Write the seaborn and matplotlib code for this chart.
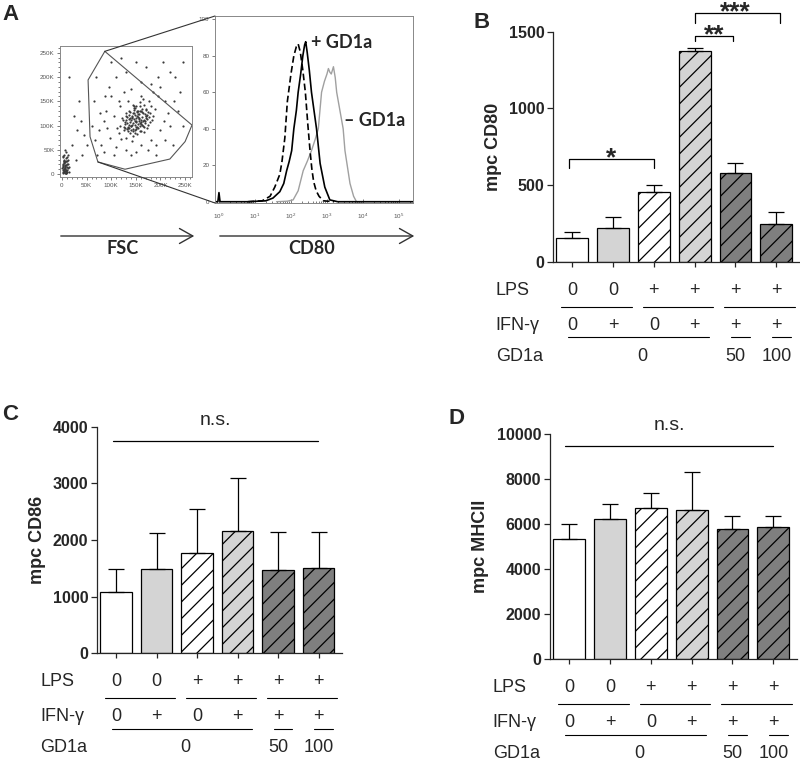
import numpy as np
import pandas as pd
import matplotlib
matplotlib.use("Agg")
import matplotlib.pyplot as plt
import matplotlib.transforms as mtransforms
from matplotlib.patches import ConnectionPatch, FancyArrowPatch
from matplotlib.ticker import FuncFormatter, MultipleLocator, LogLocator, NullFormatter
import seaborn as sns

# ---------------- data ----------------
conditions = ["c1", "c2", "c3", "c4", "c5", "c6"]
lps = ["0", "0", "+", "+", "+", "+"]
ifn = ["0", "+", "0", "+", "+", "+"]
gd1a_labels = ["0", "50", "100"]

cd80_mean = [152, 222, 457, 1376, 576, 243]
cd80_err = [39, 67, 43, 15, 65, 79]
cd86_mean = [1082, 1482, 1776, 2165, 1476, 1512]
cd86_err = [400, 642, 777, 923, 665, 635]
mhcii_mean = [5343, 6244, 6730, 6642, 5771, 5845]
mhcii_err = [635, 649, 635, 1653, 576, 517]

# histogram (CD80, log10 of intensity vs % of max)
dashed_log = [0.8, 1.2, 1.42, 1.55, 1.69, 1.75, 1.83, 1.9, 2.0, 2.08, 2.15, 2.2, 2.26,
              2.33, 2.4, 2.47, 2.53, 2.58, 2.63, 2.7, 2.78, 2.9, 3.2]
dashed_y = [0, 0.5, 3, 8, 15, 22, 35, 55, 70, 80, 85, 86.5, 82, 72, 60, 42, 28, 18, 11,
            6, 3, 0.5, 0]
solid_log = [-0.12, -0.03, 0.0, 0.03, 0.8, 1.3, 1.5, 1.69, 1.8, 1.88, 1.95, 2.02, 2.08,
             2.15, 2.2, 2.27, 2.33, 2.38, 2.41, 2.45, 2.51, 2.57, 2.64, 2.71, 2.81, 2.94,
             3.08, 3.3, 5.4]
solid_y = [0, 0, 5, 0, 0, 0.5, 2, 5.5, 10, 17, 22, 28, 40, 50, 60, 70, 80, 86, 87.7, 82,
           72, 60, 50, 40, 21, 8, 1, 0, 0]
gray_log = [1.6, 1.9, 2.06, 2.2, 2.34, 2.45, 2.57, 2.67, 2.76, 2.85, 2.93, 3.0, 3.04, 3.08,
            3.12, 3.18, 3.23, 3.27, 3.36, 3.45, 3.5, 3.64, 3.74, 3.82, 4.0]
gray_y = [0, 0.3, 1, 6, 17, 22, 28, 34, 40, 60, 66, 70, 73, 71, 70, 74, 68, 60, 50, 40, 28,
          10, 3, 0, 0]

# FSC / SSC dot plot (K units)
fsc_k = [150, 145, 155, 160, 140, 165, 135, 152, 148, 170, 158, 142, 128, 162, 175, 138, 155,
         168, 132, 146, 180, 125, 150, 160, 172, 118, 144, 185, 136, 158, 122, 166, 178, 130,
         153, 141, 149, 157, 163, 139, 147, 170, 126, 134, 176, 188, 115, 160, 143, 151, 154,
         137, 167, 145, 159, 129, 173, 182, 120, 165,
         143, 156, 161, 149, 137, 152, 166, 171, 128, 134, 147, 159, 163, 141, 154, 176, 131,
         145, 168, 150, 139, 157, 148, 162, 173, 127, 136, 151, 165, 144, 158, 179, 133, 146,
         169, 153, 140, 160, 171, 124, 150, 155, 142, 148, 164, 137, 158, 170, 132, 146, 152,
         161, 143, 167, 139, 156, 149, 174, 129, 144,
         80, 95, 110, 200, 210, 220, 90, 75, 105, 190, 230, 240, 100, 130, 170, 205, 65, 70,
         85, 115, 200, 215, 225, 195, 180, 110, 98, 87, 125, 160, 140, 185, 235, 245, 92, 105,
         118, 210, 190, 150, 130, 175, 78, 68, 120, 150, 220, 100, 135, 195, 208, 112, 86, 160,
         140, 228, 245, 60, 72, 180,
         20, 30, 25, 40, 35, 15, 45, 28, 50, 38,
         3, 5, 8, 4, 6, 10, 2, 7, 12, 5, 9, 3, 11, 6, 14, 4, 8, 13, 2, 7, 10, 5, 15, 3, 9, 6,
         12, 4, 8, 11, 2, 4, 6, 8, 10, 3, 5, 7, 9, 11, 1, 4, 6, 8, 12, 3, 5, 7, 2, 9]
ssc_k = [110, 105, 118, 112, 100, 125, 95, 130, 90, 115, 100, 120, 108, 135, 128, 85, 95,
         105, 118, 125, 140, 90, 140, 88, 95, 100, 78, 120, 130, 148, 115, 142, 108, 75, 82,
         112, 101, 123, 117, 107, 133, 132, 98, 88, 150, 135, 85, 160, 68, 115, 104, 113, 98,
         92, 129, 126, 122, 112, 72, 155,
         102, 115, 108, 121, 96, 127, 111, 119, 103, 97, 114, 106, 128, 99, 131, 117, 112, 88,
         124, 93, 116, 109, 137, 101, 113, 94, 122, 107, 100, 126, 89, 125, 105, 141, 110, 120,
         91, 104, 134, 111, 97, 123, 116, 84, 109, 102, 140, 119, 92, 136, 98, 130, 118, 87,
         128, 113, 109, 101, 120, 143,
         60, 180, 200, 180, 150, 100, 130, 90, 40, 60, 200, 170, 230, 210, 220, 230, 150, 200,
         110, 150, 90, 125, 60, 200, 70, 55, 75, 160, 170, 190, 175, 170, 130, 100, 95, 120,
         140, 70, 40, 45, 50, 50, 125, 70, 240, 230, 210, 160, 150, 160, 110, 95, 45, 60, 40,
         150, 230, 100, 40, 185,
         60, 90, 120, 40, 150, 200, 80, 30, 60, 110,
         2, 5, 3, 10, 15, 8, 20, 25, 12, 30, 18, 35, 28, 6, 5, 40, 45, 20, 8, 12, 35, 22, 15,
         14, 2, 50, 40, 28, 33, 4, 4, 7, 10, 2, 14, 18, 24, 16, 6, 21, 12, 26, 3, 9, 30, 38,
         11, 19, 16, 27]
gate_x = [87, 264, 250, 219, 128, 73, 57, 53, 87]
gate_y = [253, 101, 67, 31, 10, 25, 77, 194, 253]

# ---------------- style ----------------
sns.set_style("ticks")
plt.rcParams["font.family"] = ["Liberation Sans", "DejaVu Sans"]
plt.rcParams["hatch.linewidth"] = 0.9

fill_colors = ["white", "#d4d4d4", "white", "#d4d4d4", "#7f7f7f", "#7f7f7f"]
hatches = ["", "", "//", "//", "//", "//"]

W, H = 800, 763
fig = plt.figure(figsize=(8, 7.63), dpi=100)


def fx(p):
    return p / W


def fy(p):
    return 1 - p / H


def axes_px(left, top, right, bottom):
    return fig.add_axes([fx(left), fy(bottom), (right - left) / W, (bottom - top) / H])


# ---------------- panel A ----------------
ax_sc = axes_px(60, 46, 192, 177)
sns.scatterplot(x=fsc_k, y=ssc_k, s=2.5, color="#3a3a3a", edgecolor=None, linewidth=0,
                ax=ax_sc)
ax_sc.plot(gate_x, gate_y, color="#555555", lw=0.8)
ax_sc.set_xlim(-4, 264)
ax_sc.set_ylim(-6, 264)
kfmt = FuncFormatter(lambda v, p: "0" if v == 0 else f"{int(v)}K")
for axis in (ax_sc.xaxis, ax_sc.yaxis):
    axis.set_major_locator(MultipleLocator(50))
    axis.set_minor_locator(MultipleLocator(10))
    axis.set_major_formatter(kfmt)
ax_sc.tick_params(which="both", direction="out", labelsize=4.5, labelcolor="#555555",
                  color="#666666", width=0.6, pad=1.5)
ax_sc.tick_params(which="major", length=2.5)
ax_sc.tick_params(which="minor", length=1.2)
for s in ax_sc.spines.values():
    s.set_color("#888888")
    s.set_linewidth(0.7)

ax_h = axes_px(215, 16, 413, 203)
ax_h.set_xscale("log")
ax_h.plot(10 ** np.array(gray_log), gray_y, color="#a0a0a0", lw=1.0)
ax_h.plot(10 ** np.array(solid_log), solid_y, color="black", lw=1.2)
ax_h.plot(10 ** np.array(dashed_log), dashed_y, color="black", lw=1.2, ls=(0, (4, 2)))
ax_h.set_xlim(10 ** -0.11, 10 ** 5.39)
ax_h.set_ylim(-0.7, 101.8)
ax_h.yaxis.set_major_locator(MultipleLocator(20))
ax_h.xaxis.set_major_locator(LogLocator(base=10, numticks=10))
ax_h.xaxis.set_minor_locator(LogLocator(base=10, subs=np.arange(2, 10), numticks=10))
ax_h.xaxis.set_minor_formatter(NullFormatter())
ax_h.tick_params(axis="y", direction="out", length=2.5, width=0.6, labelsize=4.5,
                 labelcolor="#555555", color="#666666", pad=1.5)
ax_h.tick_params(axis="x", which="both", direction="in", width=0.6, labelsize=4.5,
                 labelcolor="#555555", color="#666666", pad=6)
ax_h.tick_params(axis="x", which="major", length=3)
ax_h.tick_params(axis="x", which="minor", length=1.5)
for s in ax_h.spines.values():
    s.set_color("#888888")
    s.set_linewidth(0.7)

for xyA, xyB in [((87, 253), (0, 1)), ((73, 25), (0, 0))]:
    con = ConnectionPatch(xyA=xyA, coordsA=ax_sc.transData, xyB=xyB, coordsB=ax_h.transAxes,
                          color="#333333", lw=0.8)
    fig.add_artist(con)

for x0, x1 in [(58, 197), (217, 417)]:
    arr = FancyArrowPatch((fx(x0), fy(236)), (fx(x1), fy(236)), transform=fig.transFigure,
                          arrowstyle="->,head_length=0.8,head_width=0.45", mutation_scale=12,
                          lw=1.0, color="#333333")
    fig.add_artist(arr)

fa = dict(family=["Lato", "DejaVu Sans"], fontweight="bold", fontsize=13)
fig.text(fx(123), fy(249), "FSC", ha="center", va="center", **fa)
fig.text(fx(312), fy(249), "CD80", ha="center", va="center", **fa)
fig.text(fx(311), fy(43), "+ GD1a", ha="left", va="center", **fa)
fig.text(fx(344), fy(120), "– GD1a", ha="left", va="center", **fa)

# ---------------- bar panels ----------------
lps_groups = [(0, 1), (2, 3), (4, 5)]
ifn_groups = [(0, 3), (4, 4), (5, 5)]
gd1a_pos = [1.72, 4, 5]


def bar_panel(ax, means, errs, ymax, step, bottom_px):
    df = pd.DataFrame({"cond": conditions, "val": means})
    sns.barplot(data=df, x="cond", y="val", hue="cond", palette=dict(zip(conditions, fill_colors)),
                legend=False, width=0.78, edgecolor="black", linewidth=0.9, saturation=1, ax=ax)
    for patch, h in zip(ax.patches, hatches):
        patch.set_hatch(h)
    ax.errorbar(range(6), means, yerr=[np.zeros(6), errs], fmt="none", ecolor="black",
                elinewidth=0.9, capsize=5.5, capthick=0.9, zorder=3)
    sns.despine(ax=ax)
    ax.spines["left"].set_linewidth(0.9)
    ax.spines["bottom"].set_linewidth(0.9)
    ax.set_xlabel("")
    ax.set_ylabel("")
    ax.set_xticks(range(6))
    ax.set_xticklabels([""] * 6)
    ax.set_yticks(np.arange(0, ymax + 1, step))
    ax.tick_params(axis="y", direction="out", length=4.3, width=0.9, labelsize=11.5, pad=2)
    ax.tick_params(axis="x", direction="out", length=3.6, width=0.9)
    for lab in ax.get_yticklabels():
        lab.set_fontweight("bold")

    tr = mtransforms.blended_transform_factory(ax.transData, fig.transFigure)
    for name, vals, off in [("LPS", lps, 33), ("IFN-γ", ifn, 68)]:
        ax.text(-1.87, fy(bottom_px + off), name, transform=tr, ha="left", va="baseline",
                fontsize=13)
        for i, v in enumerate(vals):
            ax.text(i, fy(bottom_px + off), v, transform=tr, ha="center", va="baseline",
                    fontsize=13)
    for a, b in lps_groups:
        ax.plot([a - 0.27, b + 0.46], [fy(bottom_px + 45)] * 2, transform=tr, color="black",
                lw=0.8, clip_on=False)
    for a, b in ifn_groups:
        ax.plot([a - 0.11, b + 0.35], [fy(bottom_px + 75.5)] * 2, transform=tr, color="black",
                lw=0.8, clip_on=False)
    ax.text(-1.87, fy(bottom_px + 99), "GD1a", transform=tr, ha="left", va="baseline",
            fontsize=13)
    for x, v in zip(gd1a_pos, gd1a_labels):
        ax.text(x, fy(bottom_px + 99), v, transform=tr, ha="center", va="baseline",
                fontsize=13)
    ax.set_xlim(-0.47, 5.58)
    ax.set_ylim(0, ymax)


# B
ax_b = axes_px(553, 31.7, 800, 261.7)
bar_panel(ax_b, cd80_mean, cd80_err, 1500, 500, 261.7)
star = dict(ha="center", va="baseline", fontsize=19, fontweight="bold",
            textcoords="offset points", annotation_clip=False)
for (a, b, y, leg), (tx, txt) in zip([(-0.07, 2.0, 668, 609), (3.0, 3.93, 1472, 1442),
                                       (3.0, 5.08, 1620, 1555)],
                                      [(0.95, "*"), (3.47, "**"), (4.0, "***")]):
    ax_b.plot([a, a, b, b], [leg, y, y, leg], color="black", lw=0.9, clip_on=False)
    ax_b.annotate(txt, xy=(tx, y), xytext=(0, -4.5), **star)

# C
ax_c = axes_px(97, 426.7, 342, 653.3)
bar_panel(ax_c, cd86_mean, cd86_err, 4000, 1000, 653.3)
ax_c.plot([-0.07, 4.98], [3746, 3746], color="black", lw=0.9, clip_on=False)
ax_c.annotate("n.s.", xy=(2.46, 3746), xytext=(0, 11.5), textcoords="offset points",
              ha="center", va="baseline", fontsize=14, annotation_clip=False)

# D
ax_d = axes_px(550, 434, 797, 659)
bar_panel(ax_d, mhcii_mean, mhcii_err, 10000, 2000, 659)
ax_d.plot([-0.1, 5.0], [9467, 9467], color="black", lw=0.9, clip_on=False)
ax_d.annotate("n.s.", xy=(2.45, 9467), xytext=(0, 11.5), textcoords="offset points",
              ha="center", va="baseline", fontsize=14, annotation_clip=False)

# y labels
ylab = dict(rotation=90, ha="center", va="center", fontsize=13, fontweight="bold")
fig.text(fx(493), fy(147), "mpc CD80", **ylab)
fig.text(fx(37), fy(540), "mpc CD86", **ylab)
fig.text(fx(481), fy(546), "mpc MHCII", **ylab)

# panel letters
let = dict(ha="left", va="center", fontsize=16, fontweight="bold")
fig.text(fx(2), fy(14), "A", **let)
fig.text(fx(473), fy(22), "B", **let)
fig.text(fx(2), fy(414), "C", **let)
fig.text(fx(448), fy(418), "D", **let)

fig.savefig("out.png", dpi=100)
